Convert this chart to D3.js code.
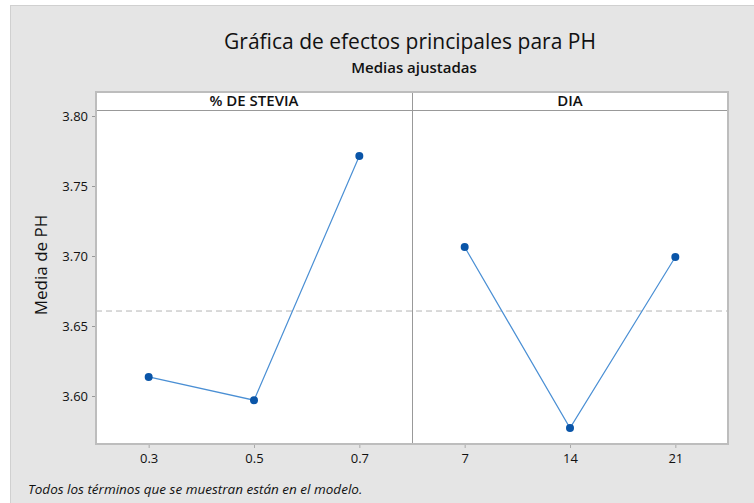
<!DOCTYPE html>
<html>
<head>
<meta charset="utf-8">
<script src="https://cdn.jsdelivr.net/npm/d3@7"></script>
<style>
	body { margin: 0; background: #fff; }
	svg text { font-family: "Open Sans", "Noto Sans", sans-serif; fill: #111; }
</style>
</head>
<body>
<div id="chart"></div>
<script>
'use strict'

/**
 * Main effects plot for PH (fitted means)
 */

const steviaLevels = ['0.3', '0.5', '0.7'];
const steviaMeans = [3.6136, 3.5970, 3.7714];
const diaLevels = ['7', '14', '21'];
const diaMeans = [3.7064, 3.5771, 3.6993];
const yTicks = [3.60, 3.65, 3.70, 3.75, 3.80];
const grandMean = 3.6607;

const panels = [
	{ name: '% DE STEVIA', levels: steviaLevels, means: steviaMeans },
	{ name: 'DIA', levels: diaLevels, means: diaMeans }
];

const width = 754;
const height = 503;

const plot = { left: 96, right: 728, top: 110, bottom: 444, strip: 18 };
const panelW = (plot.right - plot.left) / panels.length;

const svg = d3.select('#chart')
	.append('svg')
	.attr('width', width)
	.attr('height', height);

// fondo gris
svg.append('rect')
	.attr('x', 10.5).attr('y', 5.5)
	.attr('width', width).attr('height', height)
	.attr('fill', '#e5e5e5')
	.attr('stroke', '#d0d0d0');

// titulos
svg.append('text')
	.attr('x', 410).attr('y', 49)
	.attr('text-anchor', 'middle')
	.style('font-size', '21px')
	.text('Gráfica de efectos principales para PH');

svg.append('text')
	.attr('x', 414).attr('y', 73)
	.attr('text-anchor', 'middle')
	.style('font-size', '15px')
	.style('font-weight', '600')
	.text('Medias ajustadas');

const y = d3.scaleLinear()
	.domain([3.6 - (plot.bottom - 396) / 1400, 3.8 + (116 - plot.top) / 1400])
	.range([plot.bottom, plot.top]);

// cuerpo del panel
svg.append('rect')
	.attr('x', plot.left).attr('y', plot.top - plot.strip)
	.attr('width', plot.right - plot.left).attr('height', plot.bottom - plot.top + plot.strip)
	.attr('fill', '#fff');

// media general
svg.append('line')
	.attr('x1', plot.left).attr('x2', plot.right)
	.attr('y1', y(grandMean)).attr('y2', y(grandMean))
	.attr('stroke', '#b4b4b4')
	.attr('stroke-width', 1)
	.attr('stroke-dasharray', '6,4');

// eje Y
const yAxis = svg.append('g')
	.attr('transform', `translate(${plot.left},0)`)
	.call(d3.axisLeft(y).tickValues(yTicks).tickFormat(d3.format('.2f')).tickSize(4).tickPadding(4));
yAxis.select('.domain').remove();
yAxis.selectAll('line').attr('stroke', '#999');
yAxis.selectAll('text').style('font-size', '13px').style('font-family', '"Open Sans", sans-serif').attr('fill', '#111');

svg.append('text')
	.attr('transform', `translate(47,${(plot.top + plot.bottom) / 2 - 12}) rotate(-90)`)
	.attr('text-anchor', 'middle')
	.style('font-size', '17px')
	.text('Media de PH');

panels.forEach((p, i) => {
	const x0 = plot.left + i * panelW;
	const x = d3.scalePoint()
		.domain(p.levels)
		.range([x0, x0 + panelW])
		.padding(0.5);

	const xAxis = svg.append('g')
		.attr('transform', `translate(0,${plot.bottom})`)
		.call(d3.axisBottom(x).tickSize(4).tickPadding(6));
	xAxis.select('.domain').remove();
	xAxis.selectAll('line').attr('stroke', '#aaa');
	xAxis.selectAll('text').style('font-size', '13px').style('font-family', '"Open Sans", sans-serif').attr('fill', '#111');

	const pts = p.levels.map((l, k) => [x(l), y(p.means[k])]);

	svg.append('path')
		.attr('d', d3.line()(pts))
		.attr('fill', 'none')
		.attr('stroke', '#4a8fd4')
		.attr('stroke-width', 1.2);

	svg.selectAll('.dot' + i)
		.data(pts)
		.enter()
		.append('circle')
			.attr('cx', d => d[0])
			.attr('cy', d => d[1])
			.attr('r', 4)
			.attr('fill', '#0a55a8');

	// cabecera
	svg.append('text')
		.attr('x', x0 + panelW / 2).attr('y', plot.top - 4)
		.attr('text-anchor', 'middle')
		.style('font-size', '15px')
		.style('font-weight', '600')
		.text(p.name);
});

// bordes
svg.append('line')
	.attr('x1', plot.left).attr('x2', plot.right)
	.attr('y1', plot.top + 0.5).attr('y2', plot.top + 0.5)
	.attr('stroke', '#999');
svg.append('line')
	.attr('x1', plot.left + panelW + 0.5).attr('x2', plot.left + panelW + 0.5)
	.attr('y1', plot.top - plot.strip).attr('y2', plot.bottom)
	.attr('stroke', '#999');
svg.append('rect')
	.attr('x', plot.left).attr('y', plot.top - plot.strip)
	.attr('width', plot.right - plot.left).attr('height', plot.bottom - plot.top + plot.strip)
	.attr('fill', 'none')
	.attr('stroke', '#bdbdbd')
	.attr('stroke-width', 2);

// nota al pie
svg.append('text')
	.attr('x', 28).attr('y', 494)
	.style('font-size', '13.5px')
	.style('font-style', 'italic')
	.text('Todos los términos que se muestran están en el modelo.');
</script>
</body>
</html>
